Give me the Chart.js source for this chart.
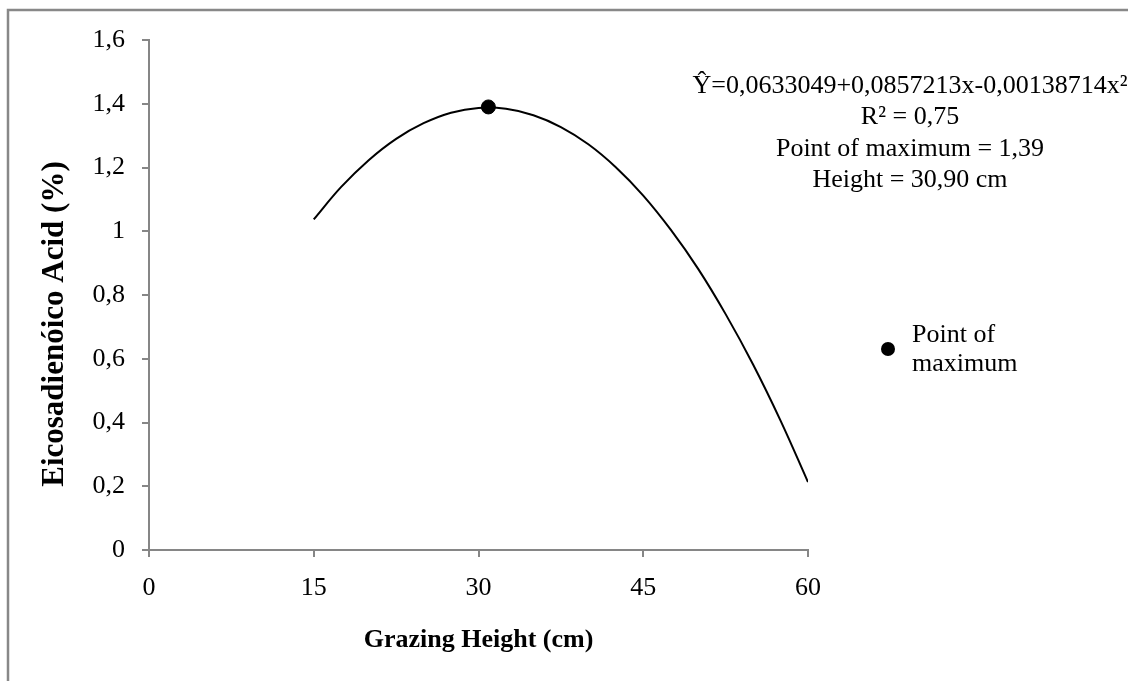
<!DOCTYPE html>
<html lang="en">
<head>
    <meta charset="UTF-8">
    <title>Eicosadienóico Acid vs Grazing Height</title>
    <script src="https://cdn.jsdelivr.net/npm/chart.js"></script>
    <style>
        body { margin: 0; background: #fff; }
        .chart-container { position: relative; width: 1128px; height: 681px; }
    </style>
</head>
<body>
    <div class="chart-container">
        <canvas id="fitChart" width="1128" height="681"></canvas>
    </div>

    <script>
        // values
        const heights = [15, 17.5, 20, 22.5, 25, 27.5, 30, 32.5, 35, 37.5, 40, 42.5, 45, 47.5, 50, 52.5, 55, 57.5, 60];
        const acidFit = [1.037, 1.139, 1.223, 1.290, 1.339, 1.372, 1.387, 1.384, 1.364, 1.327, 1.273, 1.201, 1.112, 1.005, 0.882, 0.740, 0.582, 0.406, 0.213];
        const maxHeight = [30.9];
        const maxAcid = [1.39];
        const equationLines = [
            'Ŷ=0,0633049+0,0857213x-0,00138714x²',
            'R² = 0,75',
            'Point of maximum = 1,39',
            'Height = 30,90 cm'
        ];
        const legendLines = ['Point of', 'maximum'];

        const axisGrey = '#868686';
        const serif = '"Liberation Serif", "Times New Roman", serif';

        function fmt(v) {
            const r = Math.round(v * 10) / 10;
            return Number.isInteger(r) ? String(r) : r.toFixed(1).replace('.', ',');
        }

        // frame, axis titles, equation text and legend
        const extras = {
            id: 'extras',
            afterDraw(chart) {
                const ctx = chart.ctx;
                const area = chart.chartArea;
                ctx.save();

                // grey frame on top and left
                ctx.strokeStyle = '#888';
                ctx.lineWidth = 2.5;
                ctx.beginPath();
                ctx.moveTo(8, 681);
                ctx.lineTo(8, 10);
                ctx.lineTo(1128, 10);
                ctx.stroke();

                ctx.fillStyle = '#000';
                ctx.textBaseline = 'middle';
                ctx.textAlign = 'center';

                ctx.font = 'bold 26px ' + serif;
                ctx.fillText('Grazing Height (cm)', (area.left + area.right) / 2, 640);
                ctx.save();
                ctx.translate(55, 324);
                ctx.rotate(-Math.PI / 2);
                ctx.font = 'bold 31px ' + serif;
                ctx.fillText('Eicosadienóico Acid (%)', 0, 0);
                ctx.restore();

                ctx.font = '26px ' + serif;
                equationLines.forEach((line, i) => {
                    ctx.fillText(line, 910, 86 + i * 31.5);
                });

                // legend
                ctx.beginPath();
                ctx.arc(888, 349, 7, 0, Math.PI * 2);
                ctx.fill();
                ctx.textAlign = 'left';
                legendLines.forEach((line, i) => {
                    ctx.fillText(line, 912, 335 + i * 29);
                });

                ctx.restore();
            }
        };

        const ctxFit = document.getElementById('fitChart').getContext('2d');
        const fitChart = new Chart(ctxFit, {
            type: 'scatter',
            data: {
                datasets: [
                    {
                        label: 'Fitted curve',
                        data: heights.map((h, i) => ({ x: h, y: acidFit[i] })),
                        showLine: true,
                        borderColor: '#000',
                        borderWidth: 2,
                        pointRadius: 0,
                        tension: 0.4,
                        order: 2
                    },
                    {
                        label: 'Point of maximum',
                        data: maxHeight.map((h, i) => ({ x: h, y: maxAcid[i] })),
                        backgroundColor: '#000',
                        borderColor: '#000',
                        pointRadius: 7,
                        order: 1
                    }
                ]
            },
            options: {
                responsive: false,
                animation: false,
                layout: { padding: { left: 0, top: 40, right: 320, bottom: 0 } },
                plugins: {
                    legend: { display: false },
                    tooltip: { enabled: false }
                },
                scales: {
                    x: {
                        type: 'linear',
                        min: 0,
                        max: 60,
                        ticks: {
                            stepSize: 15,
                            padding: 16,
                            color: '#000',
                            font: { family: serif, size: 26 }
                        },
                        grid: { drawOnChartArea: false, drawTicks: true, tickLength: 7, color: axisGrey, lineWidth: 2 },
                        border: { color: axisGrey, width: 2 },
                        afterFit(scale) { scale.height = 131; }
                    },
                    y: {
                        min: 0,
                        max: 1.6,
                        ticks: {
                            stepSize: 0.2,
                            padding: 17,
                            color: '#000',
                            font: { family: serif, size: 26 },
                            callback: v => fmt(v)
                        },
                        grid: { drawOnChartArea: false, drawTicks: true, tickLength: 7, color: axisGrey, lineWidth: 2 },
                        border: { color: axisGrey, width: 2 },
                        afterFit(scale) { scale.width = 149; }
                    }
                }
            },
            plugins: [extras]
        });
    </script>
</body>
</html>
